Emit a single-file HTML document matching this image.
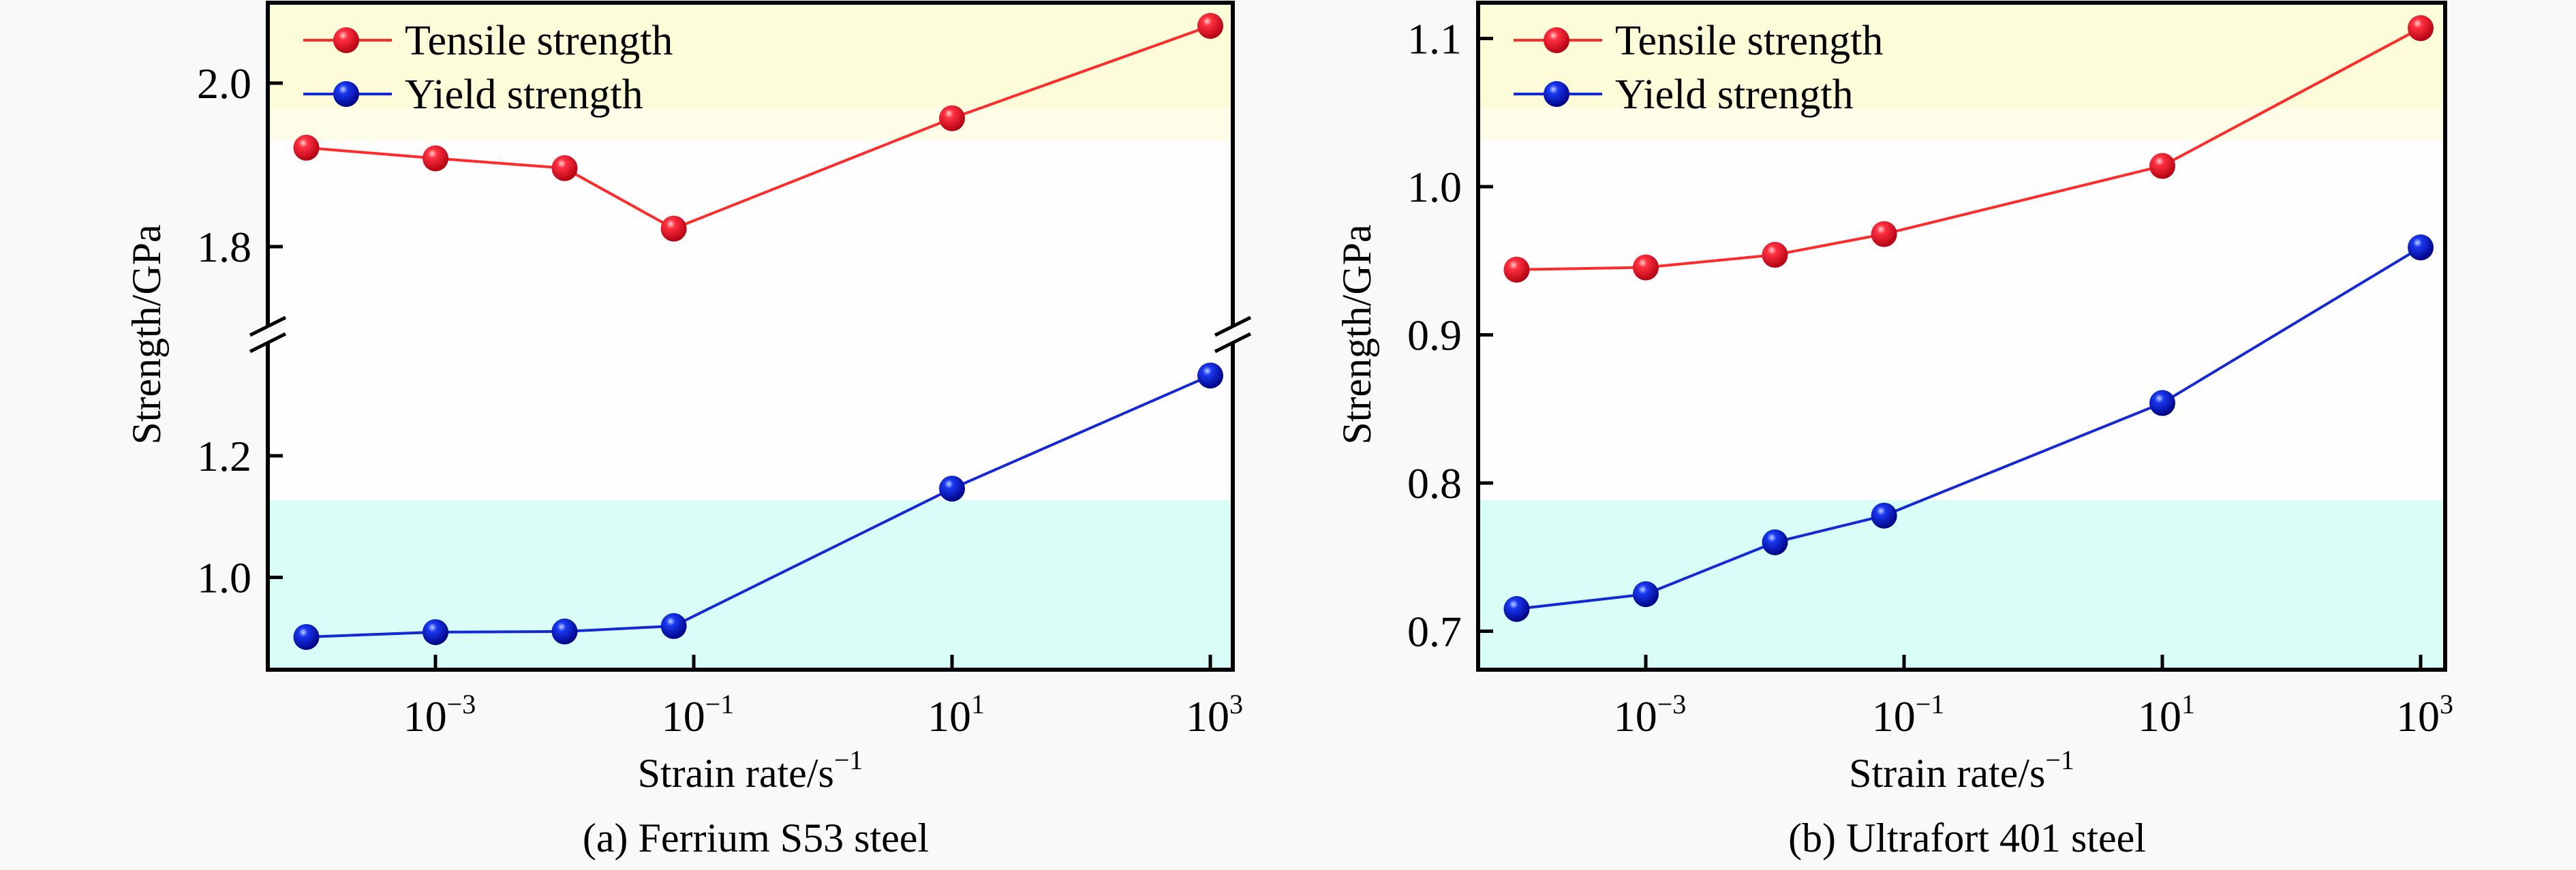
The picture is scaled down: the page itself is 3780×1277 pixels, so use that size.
<!DOCTYPE html>
<html><head><meta charset="utf-8"><style>
html,body{margin:0;padding:0;background:#f9f9f9;}
svg, svg text{font-family:"Liberation Serif","Times New Roman",serif;}
</style></head><body>
<svg id="chart" width="3780" height="1272" viewBox="0 0 3780 1272" xmlns="http://www.w3.org/2000/svg" font-family="Liberation Serif, serif">
<defs>
<radialGradient id="gr" cx="0.38" cy="0.32" r="0.7"><stop offset="0" stop-color="#ffd0d0"/><stop offset="0.25" stop-color="#ff3040"/><stop offset="1" stop-color="#b00010"/></radialGradient>
<radialGradient id="gb" cx="0.38" cy="0.32" r="0.7"><stop offset="0" stop-color="#c0d0ff"/><stop offset="0.25" stop-color="#1838f0"/><stop offset="1" stop-color="#000080"/></radialGradient>
</defs>
<g id="pa"></g>
<g id="pb"></g>
</svg>
<script>
const rates = [1e-4, 1e-3, 1e-2, 0.07, 10, 1000];
const xTickExps = [-3, -1, 1, 3];
const aTensile = [1.921, 1.908, 1.896, 1.822, 1.957, 2.070];
const aYield = [0.902, 0.910, 0.911, 0.920, 1.146, 1.332];
const aUpperTicks = [1.8, 2.0];
const aLowerTicks = [1.0, 1.2];
const bTensile = [0.944, 0.9455, 0.954, 0.968, 1.014, 1.107];
const bYield = [0.715, 0.725, 0.760, 0.778, 0.854, 0.959];
const bTicks = [0.7, 0.8, 0.9, 1.0, 1.1];

const NS = "http://www.w3.org/2000/svg";
const FF = '"Liberation Serif", serif';
function mk(parent, tag, attrs, text){
  const e = document.createElementNS(NS, tag);
  for (const k in attrs) e.setAttribute(k, attrs[k]);
  if (tag === 'text') e.setAttribute('font-family', FF);
  if (text !== undefined) e.textContent = text;
  parent.appendChild(e);
  return e;
}

function panel(g, L, R, yFn, ticks, tens, yld, fmt, caption, brk){
  const T = 4, B = 983;
  const xs = v => L + (Math.log10(v) - (-3)) * 189.5 + (639 - 393);
  const pw = mk(g, 'rect', {x:L, y:T, width:R-L, height:B-T, fill:'#fefefe'});
  
  
  const yb = mk(g, 'rect', {x:L, y:T, width:R-L, height:154, fill:'#fcfcd8'});
  
  
  const yb2 = mk(g, 'rect', {x:L, y:158, width:R-L, height:49, fill:'#fdfde8'});
  
  
  const cb = mk(g, 'rect', {x:L, y:734, width:R-L, height:B-734, fill:'#d9fdf7'});
  
  
  const series = [[tens, '#ff2a2a', 'url(#gr)', 'tensile'], [yld, '#1428d8', 'url(#gb)', 'yield']];
  series.forEach(([vals, col, grad, nm]) => {
    const pts = vals.map((v, i) => xs(rates[i]) + ',' + yFn(v)).join(' ');
    const pl = mk(g, 'polyline', {points:pts, fill:'none', stroke:col, 'stroke-width':4});
    
    
    vals.forEach((v, i) => {
      const c = mk(g, 'circle', {cx:xs(rates[i]), cy:yFn(v), r:19, fill:grad});
      
      
    });
  });
  const fr = mk(g, 'rect', {x:L, y:T, width:R-L, height:B-T, fill:'none', stroke:'#000', 'stroke-width':6});
  
  
  ticks.forEach(t => {
    const y = yFn(t);
    const tl = mk(g, 'line', {x1:L, x2:L+22, y1:y, y2:y, stroke:'#000', 'stroke-width':5});
    
    
    const tx = mk(g, 'text', {x:L-24, y:y+22, 'text-anchor':'end', 'font-size':64}, fmt(t));
    
    
  });
  xTickExps.forEach(e => {
    const x = xs(Math.pow(10, e));
    const tl = mk(g, 'line', {x1:x, x2:x, y1:B, y2:B-22, stroke:'#000', 'stroke-width':5});
    
    
    const tx = mk(g, 'text', {x:x+6, y:B+90, 'text-anchor':'middle', 'font-size':64});
    
    
    mk(tx, 'tspan', {}, '10');
    mk(tx, 'tspan', {dy:-26, 'font-size':40}, (e < 0 ? '\u2212' : '') + Math.abs(e));
  });
  if (brk) {
    [L, R].forEach(x => {
      const w = mk(g, 'polygon', {points:`${x-26},${brk+2} ${x+26},${brk-24} ${x+26},${brk-2} ${x-26},${brk+24}`, fill:'#f9f9f9'});
      
      
      [-12, 12].forEach(o => {
        const bl = mk(g, 'line', {x1:x-26, y1:brk+13+o, x2:x+26, y2:brk-13+o, stroke:'#000', 'stroke-width':5});
        
        
      });
    });
  }
  [['Tensile strength', '#ff2a2a', 'url(#gr)', 59], ['Yield strength', '#1428d8', 'url(#gb)', 138]].forEach(([lab, col, grad, y]) => {
    const lg = mk(g, 'g', {});
    
    
    mk(lg, 'line', {x1:L+52, x2:L+182, y1:y, y2:y, stroke:col, 'stroke-width':4});
    mk(lg, 'circle', {cx:L+115, cy:y, r:19, fill:grad});
    mk(lg, 'text', {x:L+201, y:y+21, 'font-size':62}, lab);
  });
  const cx = (L + R) / 2;
  const yt = mk(g, 'text', {x:0, y:0, 'text-anchor':'middle', 'font-size':60, transform:`translate(${L-158},491) rotate(-90)`}, 'Strength/GPa');
  
  
  const xt = mk(g, 'text', {x:cx, y:1155, 'text-anchor':'middle', 'font-size':60});
  
  
  mk(xt, 'tspan', {}, 'Strain rate/s');
  mk(xt, 'tspan', {dy:-26, 'font-size':40}, '\u22121');
  const cp = mk(g, 'text', {x:cx+8, y:1250, 'text-anchor':'middle', 'font-size':60}, caption);
  
  
}

function yA(v){
  if (v >= 1.6) return 122 - (v - 2.0) * 1200;
  return 847.5 - (v - 1.0) * 892.5;
}
panel(document.getElementById('pa'), 393, 1809, yA, aUpperTicks.concat(aLowerTicks), aTensile, aYield, t => t.toFixed(1), '(a) Ferrium S53 steel', 491);
function yB(v){ return 274 - (v - 1.0) * 2175; }
panel(document.getElementById('pb'), 2169, 3588, yB, bTicks, bTensile, bYield, t => t.toFixed(1), '(b) Ultrafort 401 steel', 0);
</script>
</body></html>
